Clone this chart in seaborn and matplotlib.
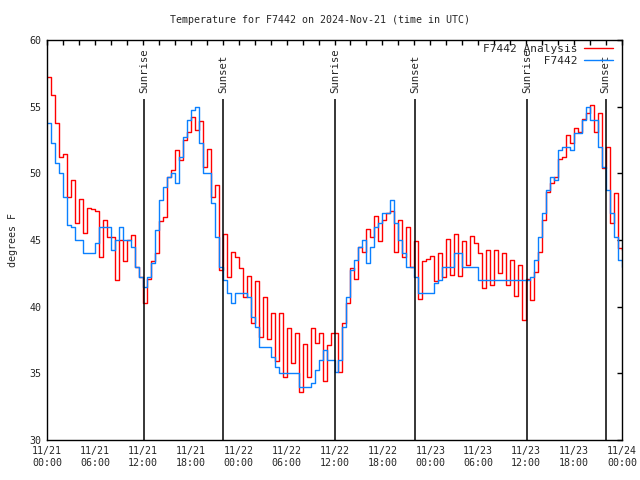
import numpy as np
import pandas as pd
import seaborn as sns
import matplotlib
matplotlib.use("Agg")
import matplotlib.pyplot as plt

# temperatures (deg F) every 30 min from 2024-11-21 00:00 UTC
analysis_temp = [
    57.25, 55.9, 53.8, 51.25, 51.45, 48.25, 49.5, 46.25, 48.1, 45.5, 47.4, 47.3,
    47.2, 43.75, 46.5, 45.25, 45.25, 42, 45, 43.4, 45, 45.4, 43, 42.25,
    40.25, 42.1, 43.4, 44, 46.4, 46.75, 49.75, 50.25, 51.75, 51, 52.5, 53.1,
    54.25, 53.25, 53.9, 50.5, 51.8, 48.25, 49.1, 42.75, 45.45, 42.25, 44.1, 43.75,
    42.9, 40.75, 42.3, 38.75, 41.9, 37.75, 40.75, 37.6, 39.5, 35.9, 39.55, 34.75,
    38.4, 35.75, 38, 33.6, 37.2, 34.75, 38.4, 37.25, 38, 34.4, 37.1, 38,
    38, 35.1, 38.75, 40.25, 42.9, 42.1, 44.5, 44.1, 45.8, 45.25, 46.8, 44.9,
    46.5, 47, 47.2, 44.1, 46.5, 43.75, 45.95, 43, 44.9, 40.6, 43.4, 43.6,
    43.8, 41.95, 44.05, 42.25, 45.05, 42.4, 45.45, 42.3, 44.95, 43.1, 45.3, 44.75,
    44, 41.4, 44.25, 41.6, 44.25, 42.5, 44.05, 41.6, 43.5, 40.8, 43.1, 39,
    42.1, 40.5, 42.6, 44.1, 46.5, 48.6, 49.25, 49.75, 51.05, 51.25, 52.9, 52.25,
    53.4, 53.1, 54.05, 54.5, 55.1, 53.1, 54.55, 50.4, 51.95, 46.25, 48.5, 44.4,
    44.25,
]

station_temp = [
    53.75, 52.3, 50.75, 50, 48.25, 46.1, 46, 45, 45, 44, 44, 44,
    44.75, 46, 46, 46, 44.25, 45, 46, 45, 45, 44.5, 43, 42.25,
    41.5, 42.25, 43.25, 45.75, 48, 49, 49.75, 50, 49.25, 51.25, 52.75, 54,
    54.75, 55, 52.25, 50, 50, 47.75, 45.25, 43, 42, 41, 40.25, 41,
    41, 41, 40.75, 39.25, 38.5, 37, 37, 37, 36.25, 35.5, 35, 35,
    35, 35, 35, 34, 34, 34, 34.25, 35.25, 36, 36.75, 36, 36,
    35.1, 36, 38.5, 40.75, 42.75, 43.5, 44.5, 45, 43.25, 44.5, 46, 46.25,
    47, 47, 48, 46.25, 45, 44, 43, 43, 42.25, 41, 41, 41,
    41, 41.75, 42, 43, 43, 43, 44, 44, 43, 43, 43, 43,
    42, 42, 42, 42, 42, 42, 42, 42, 42, 42, 42, 42,
    42, 42.25, 43.5, 45.25, 47, 48.75, 49.75, 49.5, 51.75, 52, 52, 51.75,
    53, 53, 54, 55, 54, 54, 52, 50.5, 48.75, 47, 45.25, 43.5,
    43,
]

# sunrise / sunset, hours after 11/21 00:00 UTC
sun_hours = [12.14, 22.03, 36.05, 46.06, 60.08, 69.96]
sun_labels = ["Sunrise", "Sunset", "Sunrise", "Sunset", "Sunrise", "Sunset"]

days = ["11/21", "11/22", "11/23", "11/24"]
clock = ["00:00", "06:00", "12:00", "18:00"]

df_a = pd.DataFrame({"hour": np.arange(len(analysis_temp)) * 0.5, "temp": analysis_temp})
df_s = pd.DataFrame({"hour": np.arange(len(station_temp)) * 0.5, "temp": station_temp})

sns.set_style("white")
plt.rcParams["font.family"] = ["DejaVu Sans Mono"]
FS = 7.2

fig = plt.figure(figsize=(6.4, 4.8), dpi=100)
ax = fig.add_axes([47 / 640, 40 / 480, 575 / 640, 400 / 480])

sns.lineplot(data=df_a, x="hour", y="temp", ax=ax, color="#ff0000", lw=1.0,
             drawstyle="steps-post", label="F7442 Analysis")
sns.lineplot(data=df_s, x="hour", y="temp", ax=ax, color="#0a80ff", lw=1.0,
             drawstyle="steps-post", label="         F7442")

ax.vlines(sun_hours, 30, 55.6, color="black", lw=1.1)
for h, lab in zip(sun_hours, sun_labels):
    ax.text(h, 56.05, lab, rotation=90, ha="center", va="bottom", fontsize=FS + 0.5)

ax.set_xlim(0, 72)
ax.set_ylim(30, 60)
major = np.arange(0, 73, 6)
ax.set_xticks(major)
ax.set_xticklabels([f"{days[int(h) // 24]}\n{clock[(int(h) % 24) // 6]}" for h in major],
                   fontsize=FS, linespacing=1.35)
ax.set_xticks(np.arange(0, 73, 2), minor=True)
ax.set_yticks(np.arange(30, 61, 5))
ax.tick_params(axis="y", labelsize=FS)
ax.tick_params(which="both", direction="in", top=True, right=True,
               length=3.6, width=1, color="black", pad=4)
for sp in ax.spines.values():
    sp.set_color("black")
    sp.set_linewidth(1)

ax.set_xlabel("")
ax.set_ylabel("degrees F", fontsize=FS, labelpad=8)

ax.legend(loc="upper right", bbox_to_anchor=(0.985, 0.99), frameon=False,
          markerfirst=False, fontsize=FS + 0.8,
          handlelength=2.6, handletextpad=0.6, labelspacing=0.15,
          borderaxespad=0, borderpad=0)

fig.text(0.5, 1 - 20 / 480, "Temperature for F7442 on 2024-Nov-21 (time in UTC)",
         ha="center", va="center", fontsize=FS)

fig.savefig("out.png", dpi=100)
